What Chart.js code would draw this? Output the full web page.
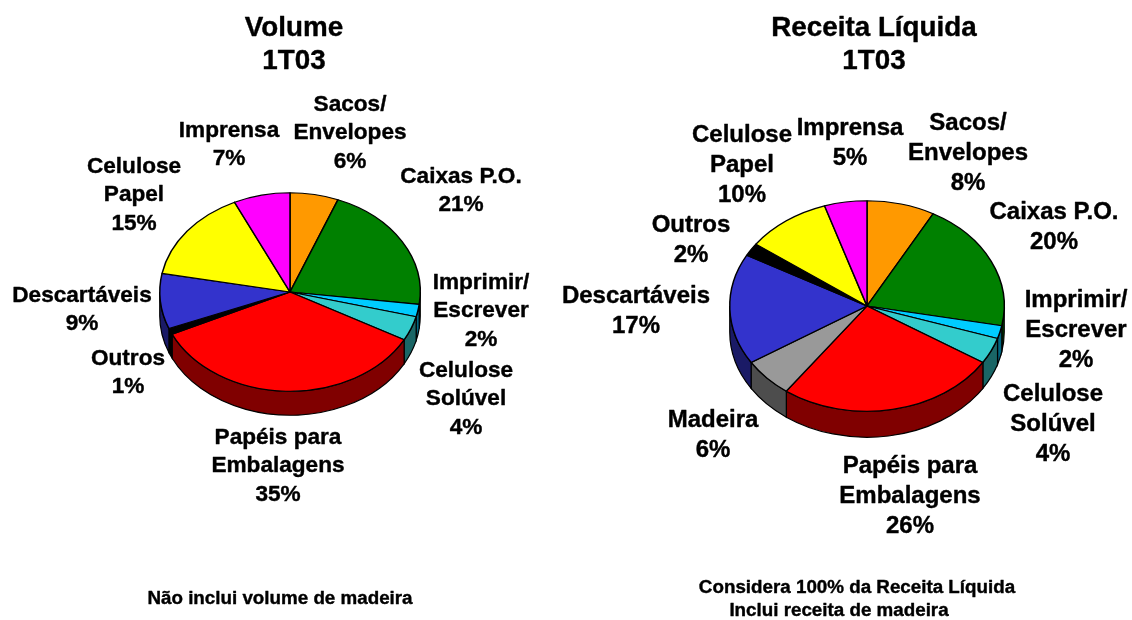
<!DOCTYPE html>
<html>
<head>
<meta charset="utf-8">
<title>Volume e Receita Liquida 1T03</title>
<script src="https://cdn.jsdelivr.net/npm/chart.js@4"></script>
<style>
  html, body { margin: 0; padding: 0; background: #fff; overflow: hidden; }
  #wrap { position: relative; width: 1132px; height: 620px; }
  canvas { position: absolute; top: 0; left: 0; }
</style>
</head>
<body>
<div id="wrap">
  <canvas id="volume" width="1132" height="620"></canvas>
  <canvas id="receita" width="1132" height="620"></canvas>
</div>
<script>
// data, clockwise from 12 o'clock
const volumeCategories = ['Sacos/ Envelopes', 'Caixas P.O.', 'Imprimir/ Escrever', 'Celulose Solúvel', 'Papéis para Embalagens', 'Outros', 'Descartáveis', 'Celulose Papel', 'Imprensa']
const volumeValues = [6, 21, 2, 4, 35, 1, 9, 15, 7]
const volumeColors = ['#ff9900', '#008000', '#00ccff', '#33cccc', '#ff0000', '#000000', '#3333cc', '#ffff00', '#ff00ff']
const volumeSides = ['#804d00', '#004000', '#006680', '#1a6666', '#800000', '#000000', '#1a1a66', '#808000', '#800080']

const receitaCategories = ['Sacos/ Envelopes', 'Caixas P.O.', 'Imprimir/ Escrever', 'Celulose Solúvel', 'Papéis para Embalagens', 'Madeira', 'Descartáveis', 'Outros', 'Celulose Papel', 'Imprensa']
const receitaValues = [8, 20, 2, 4, 26, 6, 17, 2, 10, 5]
const receitaColors = ['#ff9900', '#008000', '#00ccff', '#33cccc', '#ff0000', '#999999', '#3333cc', '#000000', '#ffff00', '#ff00ff']
const receitaSides = ['#804d00', '#004000', '#006680', '#1a6666', '#800000', '#4d4d4d', '#1a1a66', '#000000', '#808000', '#800080']

const volumeTitle = ['Volume', '1T03']
const receitaTitle = ['Receita Líquida', '1T03']
const volumeNotes = ['Não inclui volume de madeira']
const receitaNotes = ['Considera 100% da Receita Líquida', 'Inclui receita de madeira']

// where the texts go: [centre x, middle y of first line], in page pixels
const volumeLabelAt = [[350, 104.5], [461, 176.5], [481, 282.5], [466, 370.5], [278, 437.5], [128, 358.5], [82, 295.5], [134, 166.5], [229, 130.5]]
const receitaLabelAt = [[968, 123.5], [1054, 212.5], [1076, 300.5], [1053, 394.5], [910, 466.5], [713, 420.5], [636, 296.5], [691, 225.5], [742, 135.5], [850, 128.5]]

const FONT = '"Liberation Sans", Arial, sans-serif'

// splits 'Papéis para Embalagens' the way the picture does
const wrapLabel = (name) => {
  if (name === 'Celulose Papel' || name === 'Celulose Solúvel') return name.split(' ')
  if (name === 'Sacos/ Envelopes' || name === 'Imprimir/ Escrever') return name.split(' ')
  if (name === 'Papéis para Embalagens') return ['Papéis para', 'Embalagens']
  return [name]
}

// the source text is heavier than plain bold, a thin outline gets it close
const heavyText = (ctx, t, x, y) => {
  ctx.strokeText(t, x, y)
  ctx.fillText(t, x, y)
}

const pie3d = {
  id: 'pie3d',
  beforeDatasetsDraw(chart, args, opts) {
    const ctx = chart.ctx
    const arcs = chart.getDatasetMeta(0).data
    const sides = opts.sides
    ctx.save()
    ctx.lineWidth = 1.2
    ctx.strokeStyle = '#000'
    arcs.forEach((arc, i) => {
      // only the part of the slice facing the viewer has a wall
      const fullTurn = Math.PI * 2
      let from = arc.startAngle, to = arc.endAngle
      while (from < 0 && to <= 0) { from += fullTurn; to += fullTurn }
      from = Math.max(from, 0)
      to = Math.min(to, Math.PI)
      if (to <= from) return
      const rx = arc.outerRadius, ry = rx * opts.squash
      ctx.beginPath()
      ctx.ellipse(arc.x, arc.y, rx, ry, 0, from, to)
      ctx.ellipse(arc.x, arc.y + opts.depth, rx, ry, 0, to, from, true)
      ctx.closePath()
      ctx.fillStyle = sides[i]
      ctx.fill()
      ctx.stroke()
    })
    ctx.restore()
  },
  beforeDatasetDraw(chart, args, opts) {
    const ctx = chart.ctx
    const arc = chart.getDatasetMeta(0).data[0]
    ctx.save()
    ctx.translate(arc.x, arc.y)
    ctx.scale(1, opts.squash)
    ctx.translate(-arc.x, -arc.y)
  },
  afterDatasetDraw(chart) {
    chart.ctx.restore()
  },
  afterDraw(chart, args, opts) {
    const ctx = chart.ctx
    ctx.save()
    ctx.fillStyle = '#000'
    ctx.strokeStyle = '#000'
    ctx.lineWidth = 0.4
    ctx.lineJoin = 'round'
    ctx.textAlign = 'center'
    ctx.textBaseline = 'middle'

    ctx.font = 'bold ' + opts.titleSize + 'px ' + FONT
    opts.title.forEach((t, i) => heavyText(ctx, t, opts.titleX, 28 + i * 33))

    ctx.font = 'bold ' + opts.labelSize + 'px ' + FONT
    opts.categories.forEach((name, i) => {
      const lines = wrapLabel(name).concat(opts.values[i] + '%')
      lines.forEach((l, j) => heavyText(ctx, l, opts.labelAt[i][0], opts.labelAt[i][1] + j * opts.lineGap))
    })

    ctx.font = 'bold 18.8px ' + FONT
    opts.notes.forEach((t, i) => heavyText(ctx, t, opts.notesX[i], opts.notesY[i]))
    ctx.restore()
  }
}

const makePie = (id, cfg) => new Chart(document.getElementById(id), {
  type: 'pie',
  plugins: [pie3d],
  data: {
    labels: cfg.categories,
    datasets: [{
      data: cfg.values,
      backgroundColor: cfg.colors,
      borderColor: '#000',
      borderWidth: 1.5,
      borderJoinStyle: 'round'
    }]
  },
  options: {
    responsive: false,
    animation: false,
    layout: { padding: cfg.padding },
    plugins: {
      legend: { display: false },
      tooltip: { enabled: false },
      pie3d: cfg
    }
  }
})

makePie('volume', {
  categories: volumeCategories, values: volumeValues, colors: volumeColors, sides: volumeSides,
  labelAt: volumeLabelAt, title: volumeTitle, notes: volumeNotes,
  notesX: [280], notesY: [598.5],
  titleX: 294, titleSize: 27.8, labelSize: 22.6, lineGap: 28.7,
  squash: 0.762, depth: 24,
  // chart area = centre (290,292), radius 130
  padding: { left: 159, right: 711, top: 161, bottom: 197 }
})

makePie('receita', {
  categories: receitaCategories, values: receitaValues, colors: receitaColors, sides: receitaSides,
  labelAt: receitaLabelAt, title: receitaTitle, notes: receitaNotes,
  notesX: [857, 839], notesY: [587.5, 610.5],
  titleX: 874, titleSize: 27.8, labelSize: 24, lineGap: 30,
  squash: 0.767, depth: 26,
  // chart area = centre (867,306), radius 137
  padding: { left: 729, right: 127, top: 168, bottom: 176 }
})
</script>
</body>
</html>
